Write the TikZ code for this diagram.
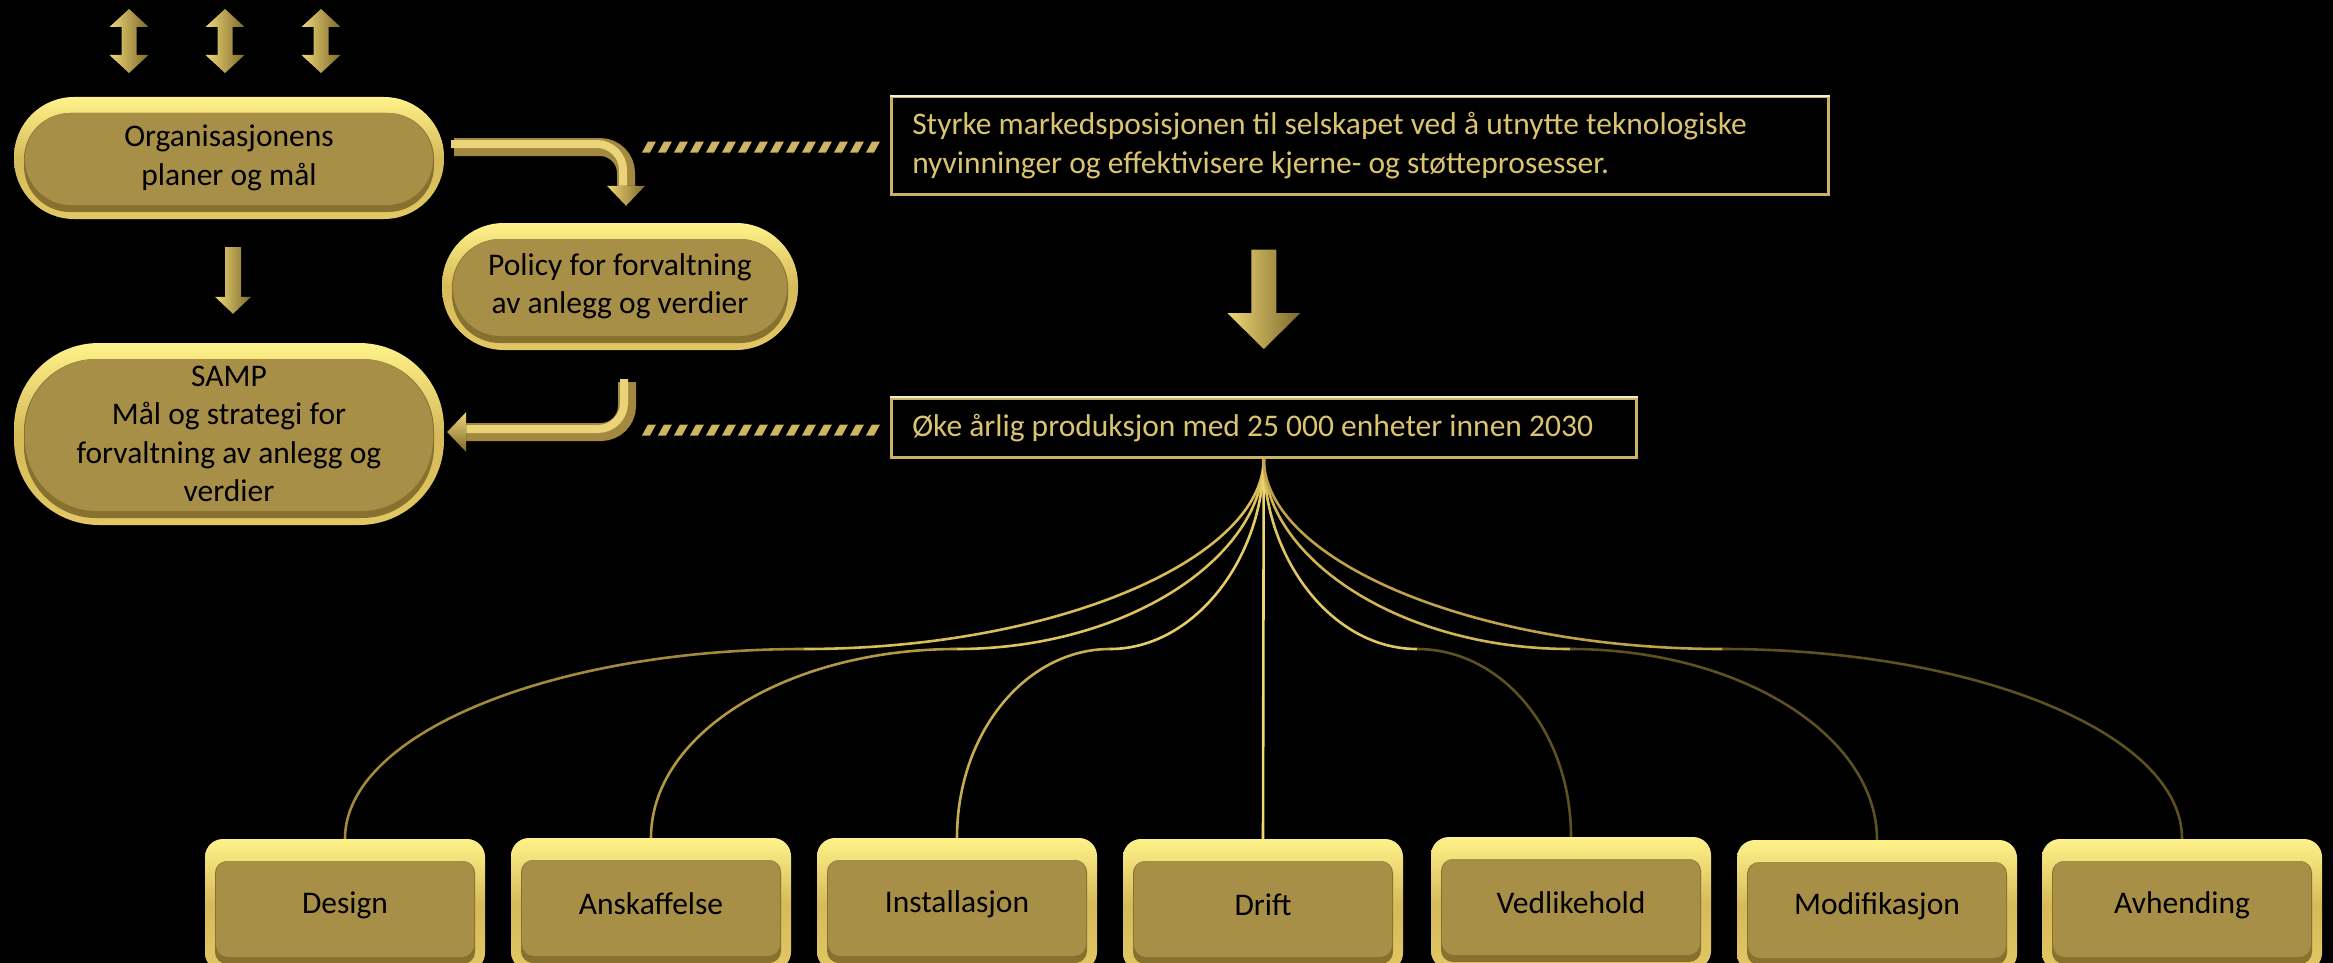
\documentclass[tikz,border=0pt]{standalone}
\usepackage{fontspec}
\setmainfont{Carlito}
\usetikzlibrary{calc,decorations.markings}
\definecolor{goldflat}{HTML}{A88F47}
\definecolor{goldhi}{HTML}{FFF28A}
\definecolor{goldmid}{HTML}{D6BA5A}
\definecolor{goldlo}{HTML}{E2C764}
\definecolor{goldband}{HTML}{86712F}
\definecolor{txtgold}{HTML}{DAC470}
\definecolor{framegold}{HTML}{C9B463}
\definecolor{framehi}{HTML}{F2EEDC}
\definecolor{arrL}{HTML}{EDD676}
\definecolor{arrD}{HTML}{7E692B}
\definecolor{shaftD}{HTML}{A2893F}
\definecolor{shaftL}{HTML}{EAD378}
\definecolor{hatchgold}{HTML}{CDB564}
\definecolor{cUa}{HTML}{D8BC55}
\definecolor{cUb}{HTML}{DEC25C}
\definecolor{cUc}{HTML}{E6CC68}
\definecolor{cLa}{HTML}{A4893C}
\definecolor{cLb}{HTML}{B39843}
\definecolor{cLc}{HTML}{C8AD50}
\definecolor{cDrift}{HTML}{EFD772}
\definecolor{cRa}{HTML}{E0C662}
\definecolor{cRb}{HTML}{D0B454}
\definecolor{cRc}{HTML}{BFA24A}
\definecolor{cDk}{HTML}{5E5021}
\newcommand\boxfont{\fontsize{31.5}{38.5}\selectfont}
\newcommand\goldvarrow[5]{%
  \fill[left color=arrL, right color=arrD] let \p1=(#1), \p2=(#2) in
    (\x1-#3,\y1) -- (\x1+#3,\y1) -- (\x1+#3,\y2+#5) -- (\x1+#4,\y2+#5) -- (\x2,\y2)
    -- (\x1-#4,\y2+#5) -- (\x1-#3,\y2+#5) -- cycle;}
\newcommand\golddarrow[1]{%
  \fill[left color=arrL, right color=arrD] (#1,9) -- (#1+19.5,27) -- (#1+7.5,27) -- (#1+7.5,55)
    -- (#1+19.5,55) -- (#1,73) -- (#1-19.5,55) -- (#1-7.5,55) -- (#1-7.5,27) -- (#1-19.5,27) -- cycle;}
\tikzset{
  goldbox/.style n args={3}{shape=rectangle, rounded corners=#1, inner sep=0pt, align=center,
    text=black, font=\boxfont,
    top color=goldhi, bottom color=goldlo, middle color=goldmid,
    path picture={
      \fill[goldband, rounded corners=#2]
        ([xshift=10pt,yshift=-#3]path picture bounding box.north west) rectangle
        ([xshift=-10pt,yshift=7pt]path picture bounding box.south east);
      \fill[goldflat, rounded corners=#2]
        ([xshift=11pt,yshift=-#3]path picture bounding box.north west) rectangle
        ([xshift=-11pt,yshift=14pt]path picture bounding box.south east);
    }},
  lcbox/.style={goldbox={18pt}{12pt}{22pt}, minimum width=280pt, minimum height=132pt},
  textbox/.style={draw=framegold, line width=2.5pt, fill=black, text=txtgold, font=\boxfont,
    align=flush left, inner xsep=21pt, inner ysep=0pt, anchor=north west},
  shaftdark/.style={draw=shaftD, line width=18pt, rounded corners=26pt},
  shaftlight/.style={draw=shaftL, line width=8pt, rounded corners=26pt,
    transform canvas={xshift=-3pt,yshift=3pt}},
  hatchline/.style={decoration={markings, mark=between positions 0 and 1 step 16pt with
    {\fill[hatchgold] (0pt,-5.5pt) -- (8pt,-5.5pt) -- (14pt,5.5pt) -- (6pt,5.5pt) -- cycle;}},
    postaction=decorate},
  curve/.style={line width=2.6pt},
}
\begin{document}
\begin{tikzpicture}[x=1pt,y=-1pt]
\useasboundingbox (0,0) rectangle (2333,963);
\fill[black] (0,0) rectangle (2333,963);

% top double arrows
\golddarrow{129}
\golddarrow{225}
\golddarrow{321}

% left boxes
\node[goldbox={60pt}{46pt}{16pt}, minimum width=430pt, minimum height=122pt] (org) at (229,158)
  {Organisasjonens\\planer og mål};
\node[goldbox={62pt}{48pt}{16pt}, minimum width=356pt, minimum height=127pt] (policy) at (620,286.5)
  {Policy for forvaltning\\av anlegg og verdier};
\node[goldbox={85pt}{72pt}{16pt}, minimum width=430pt, minimum height=182pt] (samp) at (229,434)
  {SAMP\\Mål og strategi for\\forvaltning av anlegg og\\verdier};

% text boxes
\node[textbox, text width=895pt, minimum height=97pt] (goal) at (890,96)
  {\makebox[895pt][l]{Styrke markedsposisjonen til selskapet ved å utnytte teknologiske}\\
   \makebox[895pt][l]{nyvinninger og effektivisere kjerne- og støtteprosesser.}};
\draw[framehi, line width=2.5pt] (goal.north west) -- (goal.north east);
\node[textbox, text width=703pt, minimum height=59pt] (goal2) at (890,397)
  {\makebox[703pt][l]{Øke årlig produksjon med 25 000 enheter innen 2030}};
\draw[framehi, line width=2.5pt] (goal2.north west) -- (goal2.north east);

% bottom boxes
\node[lcbox] (design) at (345,905) {Design};
\node[lcbox] (ansk) at (651,904) {Anskaffelse};
\node[lcbox] (inst) at (957,904) {Installasjon};
\node[lcbox] (drift) at (1263,905) {Drift};
\node[lcbox] (vedl) at (1571,903) {Vedlikehold};
\node[lcbox] (modi) at (1877,906) {Modifikasjon};
\node[lcbox] (avhe) at (2182,905) {Avhending};

% arrow org -> samp
\coordinate (a3s) at ($(org.south)+(4,28)$);
\coordinate (a3t) at ($(samp.north)+(4,-29)$);
\goldvarrow{a3s}{a3t}{8pt}{18pt}{17pt}

% big arrow goal -> goal2
\coordinate (a4s) at ($(goal.south -| goal2.north)+(0,54)$);
\coordinate (a4t) at ($(goal2.north)+(0,-48)$);
\goldvarrow{a4s}{a4t}{12.5pt}{36.5pt}{36pt}

% bent arrow org -> policy
\coordinate (a1s) at ($(org.east)+(10,-11)$);
\coordinate (a1t) at ($(policy.north)+(6,-17)$);
\coordinate (a1h) at ($(a1t)+(0,-20)$);
\draw[shaftdark] (a1s) -- (a1s -| a1t) -- (a1h);
\draw[shaftlight] (a1s) -- (a1s -| a1t) -- ($(a1h)+(0,3)$);
\fill[left color=arrL, right color=arrD] let \p1=(a1h), \p2=(a1t) in
  (\x1-19pt,\y1) -- (\x1+19pt,\y1) -- (\p2) -- cycle;

% bent arrow policy -> samp
\coordinate (a2s) at ($(policy.south)+(7,32)$);
\coordinate (a2t) at ($(samp.east)+(3,-2)$);
\coordinate (a2h) at ($(a2t)+(19,0)$);
\draw[shaftdark] (a2s) -- (a2s |- a2t) -- (a2h);
\draw[shaftlight] (a2s) -- (a2s |- a2t) -- ($(a2h)+(-3,0)$);
\fill[top color=arrL, bottom color=arrD] let \p1=(a2h), \p2=(a2t) in
  (\x1,\y1+20pt) -- (\x1,\y1-20pt) -- (\p2) -- cycle;

% hatched links
\coordinate (h1s) at (642,147);
\coordinate (h2s) at (642,430);
\path[hatchline] (h1s) -- ($(h1s -| goal.west)+(-10,0)$);
\path[hatchline] (h2s) -- ($(h2s -| goal2.west)+(-10,0)$);

% fan connectors
\coordinate (m1) at (804,649);
\coordinate (m2) at (957,649);
\coordinate (m3) at (1110,649);
\coordinate (m5) at (1417,649);
\coordinate (m6) at (1570,649);
\coordinate (m7) at (1722.5,649);
\draw[curve, cUa] (goal2.south) .. controls +(0,100) and +(252,0) .. (m1);
\draw[curve, cLa] (m1) .. controls +(-252,0) and +(0,-105) .. (design.north);
\draw[curve, cUb] (goal2.south) .. controls +(0,100) and +(168,0) .. (m2);
\draw[curve, cLb] (m2) .. controls +(-168,0) and +(0,-105) .. (ansk.north);
\draw[curve, cUc] (goal2.south) .. controls +(0,100) and +(84,0) .. (m3);
\draw[curve, cLc] (m3) .. controls +(-84,0) and +(0,-105) .. (inst.north);
\draw[curve, cDrift] (goal2.south) -- (drift.north);
\draw[curve, cRa] (goal2.south) .. controls +(0,100) and +(-85,0) .. (m5);
\draw[curve, cDk] (m5) .. controls +(85,0) and +(0,-105) .. (vedl.north);
\draw[curve, cRb] (goal2.south) .. controls +(0,100) and +(-169,0) .. (m6);
\draw[curve, cDk] (m6) .. controls +(169,0) and +(0,-105) .. (modi.north);
\draw[curve, cRc] (goal2.south) .. controls +(0,100) and +(-253,0) .. (m7);
\draw[curve, cDk] (m7) .. controls +(253,0) and +(0,-105) .. (avhe.north);
\end{tikzpicture}
\end{document}
